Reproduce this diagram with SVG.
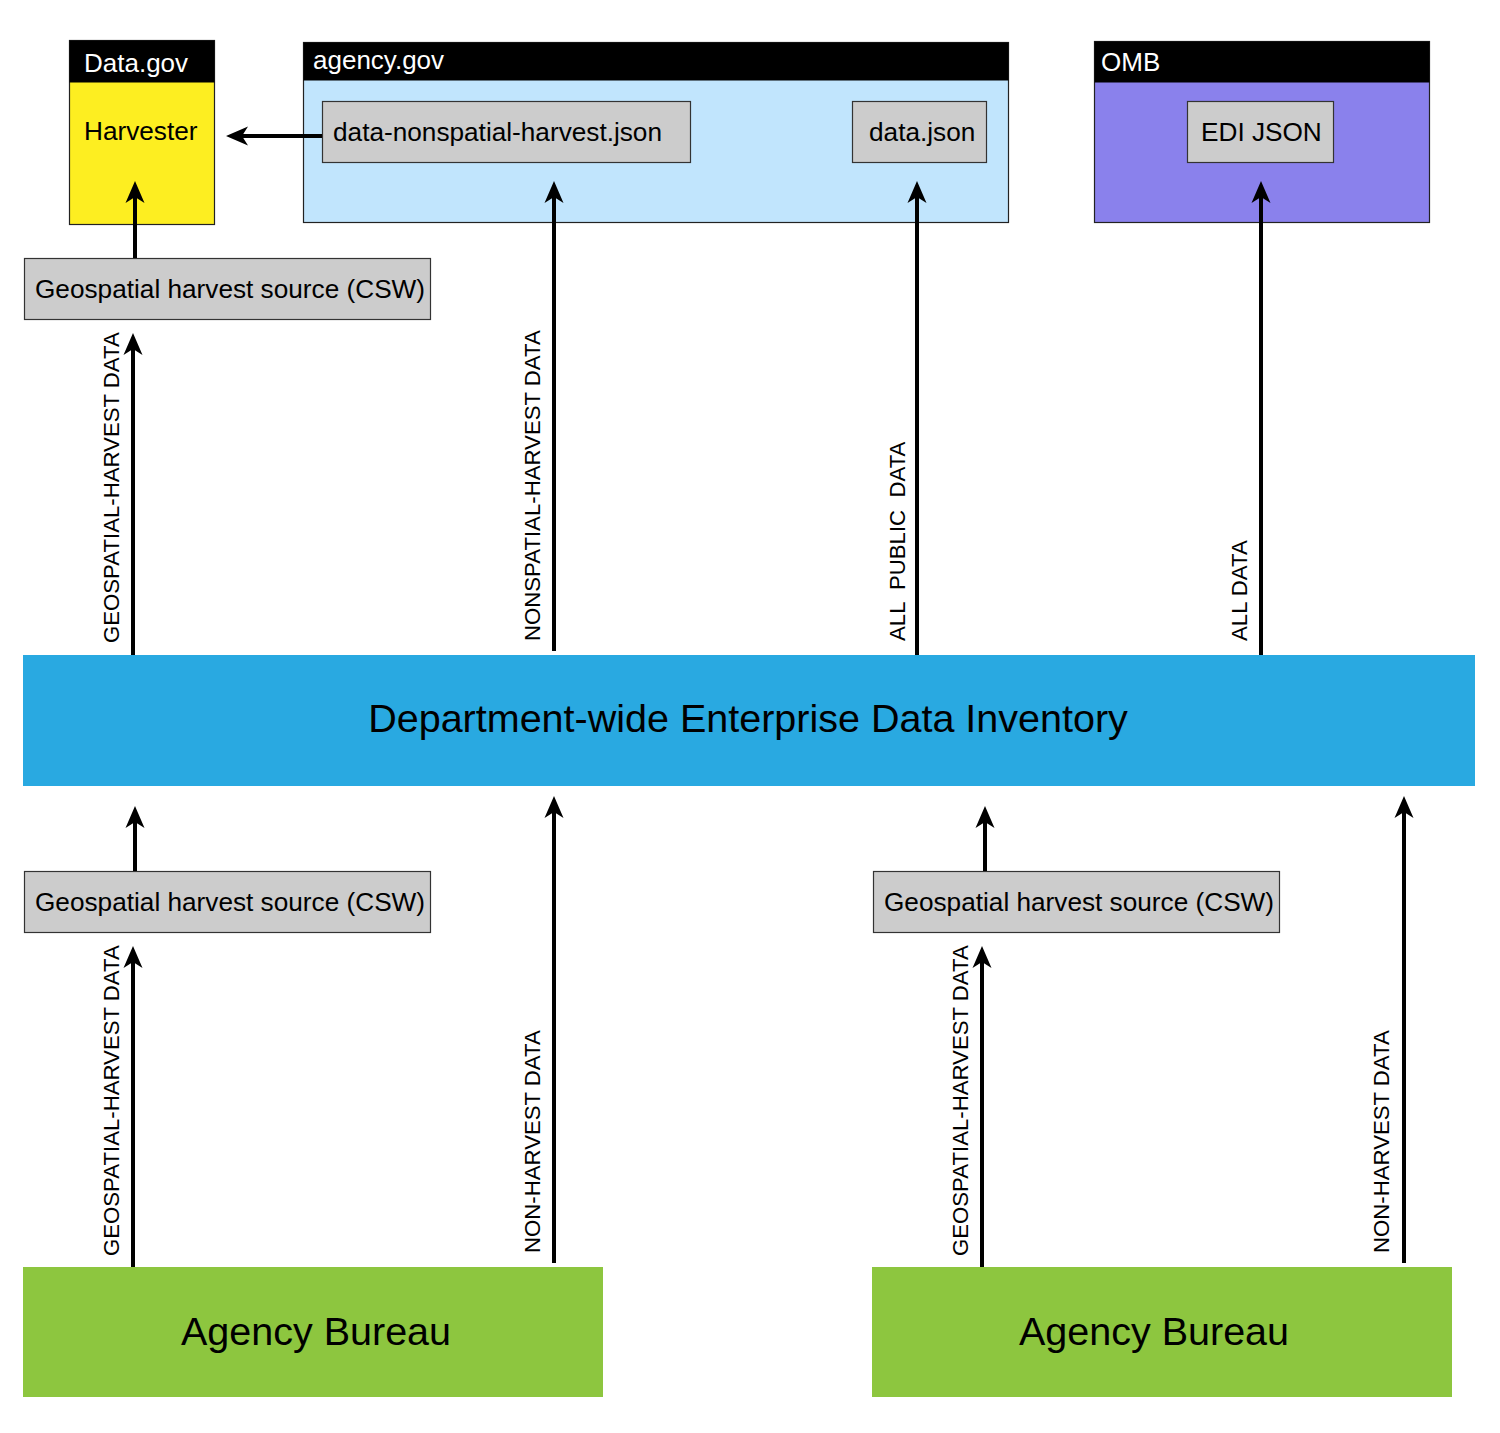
<svg xmlns="http://www.w3.org/2000/svg" width="1500" height="1433" viewBox="0 0 1500 1433">
<style>
text{font-family:"Liberation Sans",Arial,Helvetica,sans-serif;fill:#000}
.hd{fill:#fff;font-size:26px}
.nd{font-size:26.2px}
.big{font-size:39.5px}
.lbl{font-size:22.2px;white-space:pre}
.box{fill:#ccc;stroke:#333;stroke-width:1.2}
.cont{stroke:#222;stroke-width:1.2}
.head{fill:#000}
.arr{stroke:#000;stroke-width:4;fill:none;marker-end:url(#ah)}
</style>
<defs>
<marker id="ah" markerUnits="userSpaceOnUse" markerWidth="30" markerHeight="24" viewBox="0 -12 30 24" refX="8" refY="0" orient="auto">
<path d="M22,0 L0,-9.5 L6,0 L0,9.5 Z" fill="#000"/>
</marker>
</defs>
<rect width="1500" height="1433" fill="#fff"/>

<g id="datagov">
<rect class="cont" x="69.5" y="40.5" width="145" height="184" fill="#FDEE21"/>
<rect class="head" x="69.5" y="40.5" width="145" height="42"/>
<text class="hd" x="84" y="72">Data.gov</text>
<text class="nd" x="84" y="140">Harvester</text>
</g>

<g id="agencygov">
<rect class="cont" x="303.5" y="42.5" width="705" height="180" fill="#C1E5FD"/>
<rect class="head" x="303.5" y="42.5" width="705" height="38"/>
<text class="hd" x="313" y="69">agency.gov</text>
</g>
<g id="nonspatial-json">
<rect class="box" x="322.5" y="101.5" width="368" height="61"/>
<text class="nd" x="333" y="141">data-nonspatial-harvest.json</text>
</g>
<g id="data-json">
<rect class="box" x="852.5" y="101.5" width="134" height="61"/>
<text class="nd" x="869" y="141">data.json</text>
</g>

<g id="omb">
<rect class="cont" x="1094.5" y="41.5" width="335" height="181" fill="#8A81EC"/>
<rect class="head" x="1094.5" y="41.5" width="335" height="41"/>
<text class="hd" x="1101" y="71">OMB</text>
</g>
<g id="edi-json">
<rect class="box" x="1187.5" y="101.5" width="146" height="61"/>
<text class="nd" x="1201" y="141">EDI JSON</text>
</g>

<g id="csw-top">
<rect class="box" x="24.5" y="258.5" width="406" height="61"/>
<text class="nd" x="35" y="298">Geospatial harvest source (CSW)</text>
</g>

<g id="edi">
<rect x="23" y="655" width="1452" height="131" fill="#29A9E1"/>
<text class="big" x="748" y="732" text-anchor="middle">Department-wide Enterprise Data Inventory</text>
</g>

<g id="csw-left">
<rect class="box" x="24.5" y="871.5" width="406" height="61"/>
<text class="nd" x="35" y="911">Geospatial harvest source (CSW)</text>
</g>
<g id="csw-right">
<rect class="box" x="873.5" y="871.5" width="406" height="61"/>
<text class="nd" x="884" y="911">Geospatial harvest source (CSW)</text>
</g>

<g id="bureau-left">
<rect x="23" y="1267" width="580" height="130" fill="#8DC63F"/>
<text class="big" x="316" y="1345" text-anchor="middle">Agency Bureau</text>
</g>
<g id="bureau-right">
<rect x="872" y="1267" width="580" height="130" fill="#8DC63F"/>
<text class="big" x="1154" y="1345" text-anchor="middle">Agency Bureau</text>
</g>

<g id="connectors">
<path class="arr" d="M322,136 H240"/>
<path class="arr" d="M135,258 V195"/>
<path class="arr" d="M133,655 V347"/>
<path class="arr" d="M554,651 V195"/>
<path class="arr" d="M917,655 V195"/>
<path class="arr" d="M1261,655 V195"/>
<path class="arr" d="M135,871 V820"/>
<path class="arr" d="M133,1267 V960"/>
<path class="arr" d="M554,1263 V810"/>
<path class="arr" d="M985,871 V820"/>
<path class="arr" d="M982,1267 V960"/>
<path class="arr" d="M1404,1263 V810"/>
<text class="lbl" transform="translate(119,643) rotate(-90)">GEOSPATIAL-HARVEST DATA</text>
<text class="lbl" transform="translate(540,641) rotate(-90)">NONSPATIAL-HARVEST DATA</text>
<text class="lbl" transform="translate(905,641) rotate(-90)">ALL  PUBLIC  DATA</text>
<text class="lbl" transform="translate(1247,641) rotate(-90)">ALL DATA</text>
<text class="lbl" transform="translate(119,1256) rotate(-90)">GEOSPATIAL-HARVEST DATA</text>
<text class="lbl" transform="translate(540,1253) rotate(-90)">NON-HARVEST DATA</text>
<text class="lbl" transform="translate(968,1256) rotate(-90)">GEOSPATIAL-HARVEST DATA</text>
<text class="lbl" transform="translate(1389,1253) rotate(-90)">NON-HARVEST DATA</text>
</g>
</svg>
